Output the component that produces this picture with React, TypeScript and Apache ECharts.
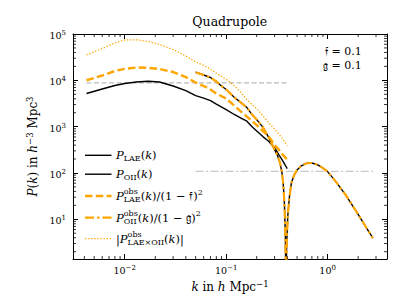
import React, { useEffect, useRef } from 'react';
import * as echarts from 'echarts';

// ---------- axis ranges ----------
const X_MIN = 0.00309;
const X_MAX = 3.85;
const Y_MIN = 1.39;
const Y_MAX = 1e5;

// ---------- data ----------
const kLAE = [0.0042, 0.006, 0.008, 0.01, 0.013, 0.017, 0.022, 0.03, 0.04, 0.05, 0.06, 0.07, 0.08, 0.1, 0.12, 0.14, 0.16, 0.18, 0.2, 0.23, 0.26, 0.3, 0.33, 0.36, 0.4];
const pLAE = [5190, 6490, 7720, 8530, 9190, 9570, 9190, 7530, 6010, 4690, 4140, 3660, 3070, 2340, 1830, 1530, 1310, 1000, 802, 610, 488, 352, 249, 185, 124];
const pLAEobs = [10040, 12700, 15900, 17730, 18920, 18620, 17540, 15100, 11780, 8960, 7530, 6330, 5180, 4040, 2850, 2110, 1650, 1318, 1080, 802, 625, 408, 319, 249, 194];
const pCrossAbs = [35200, 48700, 64000, 74300, 75100, 69000, 59400, 46300, 33500, 25000, 21000, 17500, 14300, 10500, 7720, 5440, 3800, 3000, 2450, 1720, 1250, 880, 700, 540, 389];

const kOII = [0.05, 0.06, 0.07, 0.08, 0.09, 0.1, 0.12, 0.14, 0.16, 0.18, 0.2, 0.23, 0.26, 0.3, 0.32, 0.34, 0.355, 0.365, 0.375, 0.383, 0.388, 0.395, 0.405, 0.42, 0.44, 0.47, 0.5, 0.55, 0.62, 0.7, 0.8, 0.9, 1.0, 1.2, 1.5, 2.0, 2.5, 2.8];
const pOII = [14960, 13020, 11500, 9420, 7530, 6330, 4300, 3300, 2580, 1820, 1420, 977, 609, 319, 240, 164, 100, 60, 22, 5, 0.3, 3, 12, 30, 62, 92, 116, 143, 162, 164, 150, 127, 107, 66, 34, 12.8, 5.8, 3.9];
const pOIIobs = [14960, 13020, 11500, 9420, 7530, 6330, 4300, 3300, 2580, 1820, 1420, 977, 609, 319, 240, 164, 100, 60, 22, 5, 0.3, 3, 12, 30, 62, 92, 116, 143, 162, 164, 150, 127, 107, 66, 34, 12.8, 5.8, 3.9];

const kShotLAE = [0.0042, 0.4];
const shotLAE = [8830, 8830];
const kShotOII = [0.05, 2.8];
const shotOII = [108, 108];

const minorTicksX = [0.004, 0.005, 0.006, 0.007, 0.008, 0.009, 0.02, 0.03, 0.04, 0.05, 0.06, 0.07, 0.08, 0.09, 0.2, 0.3, 0.4, 0.5, 0.6, 0.7, 0.8, 0.9, 2, 3];
const minorTicksY = [2, 3, 4, 5, 6, 7, 8, 9, 20, 30, 40, 50, 60, 70, 80, 90, 200, 300, 400, 500, 600, 700, 800, 900, 2000, 3000, 4000, 5000, 6000, 7000, 8000, 9000, 20000, 30000, 40000, 50000, 60000, 70000, 80000, 90000];

const TITLE = 'Quadrupole';
const F_FRAK = '\u{1D523}';
const G_FRAK = '\u{1D524}';
const PARAM_F = '0.1';
const PARAM_G = '0.1';

// ---------- styling ----------
const FONT = "'DejaVu Serif', serif";
const ORANGE = '#FFA500';
const DASH = [7.5, 3.3];
const DASHDOT = [9, 3, 2.5, 3];
const DOT = [1.3, 1.8];

type Seg = { t: string; s?: number; i?: boolean; r?: number; stack?: boolean };

let measureCtx: CanvasRenderingContext2D | null = null;
function textWidth(t: string, size: number, italic: boolean): number {
  if (!measureCtx) measureCtx = document.createElement('canvas').getContext('2d');
  if (!measureCtx) return t.length * size * 0.6;
  measureCtx.font = `${italic ? 'italic ' : ''}${size}px ${FONT}`;
  return measureCtx.measureText(t).width;
}

function mathText(x0: number, baseline: number, segs: Seg[], base: number): any[] {
  const out: any[] = [];
  let cursor = x0;
  let lastStart = x0;
  for (const sg of segs) {
    const size = sg.s ?? base;
    const w = textWidth(sg.t, size, !!sg.i);
    const sx = sg.stack ? lastStart : cursor;
    out.push({
      type: 'text',
      x: sx,
      y: baseline - (sg.r ?? 0) - 0.297 * size,
      silent: true,
      style: {
        text: sg.t,
        fontFamily: FONT,
        fontSize: size,
        fontStyle: sg.i ? 'italic' : 'normal',
        fill: '#000',
        align: 'left',
        verticalAlign: 'middle',
      },
    });
    cursor = sg.stack ? Math.max(cursor, sx + w) : sx + w;
    lastStart = sx;
  }
  return out;
}

function lineSeries(name: string, ks: number[], vs: number[], color: string, width: number, type: any, z: number) {
  return {
    name,
    type: 'line',
    data: ks.map((k, i) => [k, vs[i]]),
    showSymbol: false,
    symbol: 'none',
    clip: true,
    silent: true,
    z,
    lineStyle: { color, width, type, cap: 'butt', join: 'round' },
    emphasis: { disabled: true },
  };
}

const labelRich = {
  b: { fontFamily: FONT, fontSize: 9.5, lineHeight: 12, color: '#000' },
  s: { fontFamily: FONT, fontSize: 7, lineHeight: 4, verticalAlign: 'top', color: '#000' },
};

function powLabel(v: number): string {
  const l = Math.log10(v);
  const e = Math.round(l);
  if (Math.abs(l - e) > 1e-6) return '';
  return `{b|10}{s|${e < 0 ? '\u2212' : ''}${Math.abs(e)}}`;
}

const nameRich = {
  i: { fontFamily: FONT, fontSize: 12, fontStyle: 'italic', lineHeight: 14, color: '#000' },
  r: { fontFamily: FONT, fontSize: 12, lineHeight: 14, color: '#000' },
  s: { fontFamily: FONT, fontSize: 8.5, lineHeight: 8.5, verticalAlign: 'top', color: '#000' },
};

const tickBase = {
  type: 'log',
  logBase: 10,
  axisLine: { show: true, lineStyle: { color: '#000', width: 1 } },
  axisTick: { show: true, inside: true, length: 5, lineStyle: { color: '#000', width: 1 } },
  splitLine: { show: false },
  minorTick: { show: false },
};

function buildLegend(): any[] {
  const xs = 85;
  const xe = 111.5;
  const tx = 116;
  const B = 11.5;
  const S = 8;
  const rows = [
    { y: 155.3, base: 158.5, color: '#000', w: 1.4, dash: null as any, segs: [{ t: 'P', i: true }, { t: 'LAE', s: S, r: -2.7 }, { t: '(' }, { t: 'k', i: true }, { t: ')' }] },
    { y: 174.2, base: 177.5, color: '#000', w: 1.4, dash: null as any, segs: [{ t: 'P', i: true }, { t: 'OII', s: S, r: -2.7 }, { t: '(' }, { t: 'k', i: true }, { t: ')' }] },
    { y: 196, base: 199.5, color: ORANGE, w: 2.4, dash: DASH, segs: [{ t: 'P', i: true }, { t: 'obs', s: S, r: 5.3 }, { t: 'LAE', s: S, r: -2.7, stack: true }, { t: '(' }, { t: 'k', i: true }, { t: ')/(1 \u2212 ' }, { t: F_FRAK }, { t: ')' }, { t: '2', s: S, r: 5 }] },
    { y: 217.7, base: 221, color: ORANGE, w: 2.2, dash: DASHDOT, segs: [{ t: 'P', i: true }, { t: 'obs', s: S, r: 5.3 }, { t: 'OII', s: S, r: -2.7, stack: true }, { t: '(' }, { t: 'k', i: true }, { t: ')/(1 \u2212 ' }, { t: G_FRAK }, { t: ')' }, { t: '2', s: S, r: 5 }] },
    { y: 238.7, base: 242, color: ORANGE, w: 1.3, dash: DOT, segs: [{ t: '|' }, { t: 'P', i: true }, { t: 'obs', s: S, r: 5.3 }, { t: 'LAE\u00D7OII', s: S, r: -2.7, stack: true }, { t: '(' }, { t: 'k', i: true }, { t: ')|' }] },
  ];
  const els: any[] = [];
  for (const r of rows) {
    els.push({
      type: 'line',
      silent: true,
      shape: { x1: xs, y1: r.y, x2: xe, y2: r.y },
      style: { stroke: r.color, lineWidth: r.w, lineDash: r.dash || undefined, lineCap: 'butt' },
    });
    els.push(...mathText(tx, r.base, r.segs as Seg[], B));
  }
  return els;
}

function buildOption(): any {
  const annotations = [
    {
      type: 'text',
      x: 361.7,
      y: 58.6,
      silent: true,
      style: {
        text: `${F_FRAK} = ${PARAM_F}\n${G_FRAK} = ${PARAM_G}`,
        fontFamily: FONT,
        fontSize: 11,
        lineHeight: 13.6,
        fill: '#000',
        align: 'right',
        verticalAlign: 'middle',
      },
    },
  ];
  return {
    animation: false,
    backgroundColor: '#ffffff',
    title: {
      text: TITLE,
      left: 229.7,
      top: 15,
      textAlign: 'center',
      padding: 0,
      textStyle: { fontFamily: FONT, fontSize: 12.5, fontWeight: 'normal', color: '#000' },
    },
    grid: { left: 73, top: 34, right: 20, bottom: 46, containLabel: false, outerBoundsMode: 'none' },
    xAxis: [
      {
        ...tickBase,
        position: 'bottom',
        min: X_MIN,
        max: X_MAX,
        axisLabel: { show: true, margin: 5, formatter: powLabel, rich: labelRich, fontFamily: FONT },
        name: '{i|k}{r| in }{i|h}{r| Mpc}{s|\u22121}',
        nameLocation: 'middle',
        nameGap: 18.5,
        nameTextStyle: { fontFamily: FONT, fontSize: 12, color: '#000', rich: nameRich },
      },
      {
        ...tickBase,
        position: 'top',
        min: X_MIN,
        max: X_MAX,
        axisLabel: { show: false },
      },
    ],
    yAxis: [
      {
        ...tickBase,
        position: 'left',
        min: Y_MIN,
        max: Y_MAX,
        axisLabel: { show: true, margin: 7, formatter: powLabel, rich: labelRich, fontFamily: FONT, padding: [3, 0, 0, 0] },
        name: '{i|P}{r|(}{i|k}{r|) in }{i|h}{s|\u22123}{r| Mpc}{s|3}',
        nameLocation: 'middle',
        nameRotate: 90,
        nameGap: 23,
        nameTextStyle: { fontFamily: FONT, fontSize: 12, color: '#000', rich: nameRich },
      },
      {
        ...tickBase,
        position: 'right',
        min: Y_MIN,
        max: Y_MAX,
        axisLabel: { show: false },
      },
    ],
    series: [
      lineSeries('shot LAE', kShotLAE, shotLAE, '#bbbbbb', 1.2, [5, 2.5], 1),
      lineSeries('shot OII', kShotOII, shotOII, '#c8c8c8', 1.2, [8, 2.5, 2, 2.5], 1),
      lineSeries('P_LAE(k)', kLAE, pLAE, '#000', 1.4, 'solid', 2),
      lineSeries('P_OII(k)', kOII, pOII, '#000', 1.4, 'solid', 2),
      lineSeries('P_LAE^obs(k)/(1-f)^2', kLAE, pLAEobs, ORANGE, 2.4, DASH, 3),
      lineSeries('P_OII^obs(k)/(1-g)^2', kOII, pOIIobs, ORANGE, 2.2, DASHDOT, 4),
      lineSeries('|P_LAExOII^obs(k)|', kLAE, pCrossAbs, ORANGE, 1.3, DOT, 5),
      {
        type: 'custom',
        name: 'minor x ticks',
        silent: true,
        clip: false,
        z: 10,
        data: minorTicksX.map((v) => [v, Y_MIN]),
        renderItem: (_p: any, api: any) => {
          const v = api.value(0);
          const b = api.coord([v, Y_MIN]);
          const t = api.coord([v, Y_MAX]);
          return {
            type: 'group',
            children: [
              { type: 'line', shape: { x1: b[0], y1: b[1], x2: b[0], y2: b[1] - 3 }, style: { stroke: '#000', lineWidth: 0.8 } },
              { type: 'line', shape: { x1: t[0], y1: t[1], x2: t[0], y2: t[1] + 3 }, style: { stroke: '#000', lineWidth: 0.8 } },
            ],
          };
        },
      },
      {
        type: 'custom',
        name: 'minor y ticks',
        silent: true,
        clip: false,
        z: 10,
        data: minorTicksY.map((v) => [X_MIN, v]),
        renderItem: (_p: any, api: any) => {
          const v = api.value(1);
          const l = api.coord([X_MIN, v]);
          const r = api.coord([X_MAX, v]);
          return {
            type: 'group',
            children: [
              { type: 'line', shape: { x1: l[0], y1: l[1], x2: l[0] + 3, y2: l[1] }, style: { stroke: '#000', lineWidth: 0.8 } },
              { type: 'line', shape: { x1: r[0], y1: r[1], x2: r[0] - 3, y2: r[1] }, style: { stroke: '#000', lineWidth: 0.8 } },
            ],
          };
        },
      },
    ],
    graphic: [...buildLegend(), ...annotations],
  };
}

export default function App() {
  const ref = useRef<HTMLDivElement>(null);
  useEffect(() => {
    if (!ref.current) return;
    const chart = echarts.init(ref.current, null, { renderer: 'svg' });
    chart.setOption(buildOption());
    return () => chart.dispose();
  }, []);
  return <div ref={ref} style={{ position: 'fixed', left: 0, top: 0, width: 407, height: 305 }} />;
}
